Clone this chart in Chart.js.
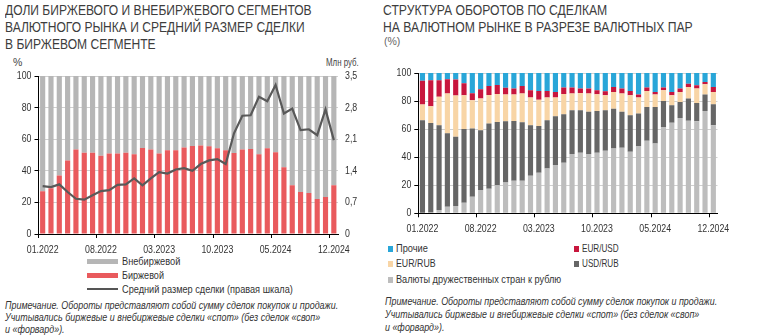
<!DOCTYPE html>
<html lang="ru">
<head>
<meta charset="utf-8">
<script src="https://cdn.jsdelivr.net/npm/chart.js@4.4.1/dist/chart.umd.min.js"></script>
<style>
  body { margin: 0; width: 758px; height: 336px; background: #fff; position: relative; overflow: hidden;
         font-family: "Liberation Sans", sans-serif; color: #333; }
  .abs { position: absolute; white-space: nowrap; transform-origin: 0 0; }
  .title { font-size: 15px; line-height: 17px; color: #3d3d3d; }
  .unit { font-size: 10.5px; color: #444; }
  .lg { font-size: 11px; line-height: 13px; color: #333; }
  .note { font-size: 10.5px; line-height: 11.8px; font-style: italic; color: #333; }
  .sw { position: absolute; }
  canvas { position: absolute; }
</style>
</head>
<body>

<div class="abs title" data-w="307" style="left:5px; top:1px;">ДОЛИ БИРЖЕВОГО И ВНЕБИРЖЕВОГО СЕГМЕНТОВ<br>ВАЛЮТНОГО РЫНКА И СРЕДНИЙ РАЗМЕР СДЕЛКИ<br>В БИРЖЕВОМ СЕГМЕНТЕ</div>
<div class="abs unit" style="left:13px; top:56px;">%</div>
<div class="abs unit" data-w="33" style="left:326px; top:56px;">Млн руб.</div>

<div style="position:absolute; left:0; top:55px; width:380px; height:200px;"><canvas id="leftChart"></canvas></div>

<div class="sw" style="left:87px; top:259px; width:31px; height:5px; background:#b6b6b6;"></div>
<div class="abs lg" data-w="58" style="left:122px; top:255px;">Внебиржевой</div>
<div class="sw" style="left:87px; top:273px; width:31px; height:5px; background:#e95a5d;"></div>
<div class="abs lg" data-w="42" style="left:122px; top:269px;">Биржевой</div>
<div class="sw" style="left:87px; top:288px; width:31px; height:2px; background:#555;"></div>
<div class="abs lg" data-w="171" style="left:122px; top:283px;">Средний размер сделки (правая шкала)</div>

<div class="abs note" data-w="333" style="left:5px; top:300px;">Примечание. Обороты представляют собой сумму сделок покупок и продажи.<br>Учитывались биржевые и внебиржевые сделки «спот» (без сделок «своп»<br>и «форвард»).</div>

<div class="abs title" data-w="310" style="left:383px; top:1px;">СТРУКТУРА ОБОРОТОВ ПО СДЕЛКАМ<br>НА ВАЛЮТНОМ РЫНКЕ В РАЗРЕЗЕ ВАЛЮТНЫХ ПАР</div>
<div class="abs unit" style="left:384px; top:35px; color:#666;">(%)</div>

<div style="position:absolute; left:380px; top:55px; width:378px; height:180px;"><canvas id="rightChart"></canvas></div>

<div class="sw" style="left:388px; top:246px; width:5px; height:6px; background:#29a6d8;"></div>
<div class="abs lg" data-w="32" style="left:396px; top:242px;">Прочие</div>
<div class="sw" style="left:388px; top:261px; width:5px; height:6px; background:#f8d5a6;"></div>
<div class="abs lg" data-w="40" style="left:396px; top:257px;">EUR/RUB</div>
<div class="sw" style="left:388px; top:277px; width:5px; height:6px; background:#bdbdbd;"></div>
<div class="abs lg" data-w="165" style="left:396px; top:273px;">Валюты дружественных стран к рублю</div>
<div class="sw" style="left:574px; top:246px; width:5px; height:6px; background:#c8163d;"></div>
<div class="abs lg" data-w="37" style="left:582px; top:242px;">EUR/USD</div>
<div class="sw" style="left:574px; top:261px; width:5px; height:6px; background:#666;"></div>
<div class="abs lg" data-w="37" style="left:582px; top:257px;">USD/RUB</div>

<div class="abs note" data-w="332" style="left:385px; top:295px; line-height:12.8px;">Примечание. Обороты представляют собой сумму сделок покупок и продажи.<br>Учитывались биржевые и внебиржевые сделки «спот» (без сделок «своп»<br>и «форвард»).</div>

<script>
// месяцы 01.2022 – 12.2024
const months = [
    '01.2022', '02.2022', '03.2022', '04.2022', '05.2022', '06.2022', '07.2022', '08.2022', '09.2022', '10.2022', '11.2022', '12.2022',
    '01.2023', '02.2023', '03.2023', '04.2023', '05.2023', '06.2023', '07.2023', '08.2023', '09.2023', '10.2023', '11.2023', '12.2023',
    '01.2024', '02.2024', '03.2024', '04.2024', '05.2024', '06.2024', '07.2024', '08.2024', '09.2024', '10.2024', '11.2024', '12.2024'
];
const shownMonths = ['01.2022', '08.2022', '03.2023', '10.2023', '05.2024', '12.2024'];

// левый график: доли сегментов, %
const exchangeShare = [27, 29, 37, 46.5, 53.5, 51.5, 51.5, 49.5, 51, 51, 51.5, 50.5,
    54.5, 53.5, 51, 53, 53, 54.7, 55.7, 56, 55.5, 54.3, 53, 51.3,
    53.5, 53.8, 50.5, 54.2, 51.7, 42.2, 30.8, 26.6, 26, 22.2, 23.4, 30.8];
const otcShare = [73, 71, 63, 53.5, 46.5, 48.5, 48.5, 50.5, 49, 49, 48.5, 49.5,
    45.5, 46.5, 49, 47, 47, 45.3, 44.3, 44, 44.5, 45.7, 47, 48.7,
    46.5, 46.2, 49.5, 45.8, 48.3, 57.8, 69.2, 73.4, 74, 77.8, 76.6, 69.2];
// средний размер сделки, млн руб.
const avgDeal = [1.06, 1.04, 1.10, 0.93, 0.78, 0.76, 0.86, 0.95, 0.97, 1.09, 1.10, 1.23,
    1.08, 1.23, 1.37, 1.34, 1.43, 1.46, 1.40, 1.55, 1.63, 1.66, 1.55, 2.23,
    2.62, 2.63, 3.04, 2.94, 3.30, 2.67, 2.78, 2.30, 2.32, 2.19, 2.76, 2.08];
const leftTicks = [0, 20, 40, 60, 80, 100];
const rightTicks = [0, 0.7, 1.4, 2.1, 2.8, 3.5];

// правый график: структура по валютным парам, %
const friendlyRub = [0.4, 0.6, 2.4, 4.7, 5.2, 7.6, 11.8, 16.6, 17.5, 20, 22, 23.2,
    23.2, 26.8, 28.9, 32, 34.4, 36, 42.2, 43.1, 42.2, 43.1, 44.5, 46.2,
    46.7, 43.8, 47.9, 51.7, 49.8, 61.6, 64.5, 68, 65.9, 65.6, 73, 62.8];
const usdRub = [66, 63.7, 60.4, 52.4, 49.3, 52.4, 48.6, 42.6, 46.5, 45, 43.6, 42.6,
    41.7, 36, 33.4, 34.4, 34.8, 34.6, 31.3, 30.4, 30.1, 29.9, 29, 28.4,
    25.6, 26.1, 23.2, 24.1, 26, 18.5, 12.5, 11.4, 15.9, 13.1, 11.6, 14.9];
const eurRub = [11.1, 12, 20.2, 28.2, 29.5, 24.1, 20.2, 22.6, 20.3, 20, 19, 18.8,
    20.4, 19.7, 18.7, 16.1, 13.3, 14.4, 11.8, 12.3, 13, 11.8, 10.6, 11.9,
    13, 14.2, 11.4, 11.4, 8.8, 7.6, 7.1, 7.1, 8.2, 10.2, 7.3, 8.8];
const eurUsd = [17, 18.5, 11.8, 10.2, 11.3, 8.6, 4.9, 6.7, 6.5, 6.5, 4.9, 4.3,
    5.5, 5.2, 6.2, 4.7, 4, 4.6, 4.3, 3.1, 3.6, 2.9, 2.9, 3.5,
    3.6, 3.1, 2.1, 2.4, 1.9, 1.9, 2.4, 2.4, 2.4, 2.3, 1.7, 3.5];
const others = [5.5, 5.2, 5.2, 4.5, 4.7, 7.3, 14.5, 11.5, 9.2, 8.5, 10.5, 11.1,
    9.2, 12.3, 12.8, 12.8, 13.5, 10.4, 10.4, 11.1, 11.1, 12.3, 13, 10,
    11.1, 12.8, 15.4, 10.4, 13.5, 10.4, 13.5, 11.1, 7.6, 8.8, 6.4, 10];

// сжимаем html-подписи до нужной ширины (узкого шрифта нет)
document.querySelectorAll('[data-w]').forEach(el => {
    el.style.transform = 'scaleX(' + (el.dataset.w / el.scrollWidth) + ')';
});

const FAMILY = '"Liberation Sans", sans-serif';
const tickFont = { family: FAMILY, size: 11 };
const TEXT = '#333';
const GRID = '#d0d0d0';
const NONE = 'rgba(0,0,0,0)';

// подписи осей рисуем сами, сжатыми по горизонтали, по позициям из шкал
const narrowLabels = {
    id: 'narrowLabels',
    afterDraw(chart) {
        const ctx = chart.ctx;
        Object.values(chart.scales).forEach(scale => {
            scale.getLabelItems(chart.chartArea).forEach(item => {
                if (!item.label) return;
                const [x, y] = item.options.translation;
                ctx.save();
                ctx.translate(x, y);
                ctx.scale(0.8, 1);
                ctx.font = '11px ' + FAMILY;
                ctx.fillStyle = TEXT;
                ctx.textAlign = item.options.textAlign;
                ctx.textBaseline = item.options.textBaseline;
                ctx.fillText(item.label, 0, item.textOffset);
                ctx.restore();
            });
        });
    }
};

// общая нижняя ось: подписи и засечки только у выбранных месяцев
function monthAxis(height) {
    return {
        stacked: true,
        offset: true,
        border: { color: '#000', width: 1 },
        grid: {
            drawOnChartArea: false,
            tickLength: 4,
            tickColor: ctx => shownMonths.includes(months[ctx.index]) ? '#000' : NONE
        },
        ticks: {
            autoSkip: false, maxRotation: 0, color: NONE, font: tickFont, padding: 5,
            callback: function (v, i) { return shownMonths.includes(months[i]) ? months[i] : ''; }
        },
        afterFit: s => { s.height = height; }
    };
}

function valueAxis(ticks, width, extra) {
    return Object.assign({
        min: ticks[0], max: ticks[ticks.length - 1],
        afterBuildTicks: s => { s.ticks = ticks.map(v => ({ value: v })); },
        afterFit: s => { s.width = width; }
    }, extra);
}

new Chart(document.getElementById('leftChart'), {
    data: {
        labels: months,
        datasets: [
            { type: 'line', label: 'Средний размер сделки (правая шкала)', data: avgDeal, yAxisID: 'y1',
              borderColor: '#595959', borderWidth: 2.2, pointRadius: 0, tension: 0, order: 0 },
            { type: 'bar', label: 'Биржевой', data: exchangeShare, backgroundColor: '#e95a5d',
              categoryPercentage: 1, barPercentage: 0.62, order: 1 },
            { type: 'bar', label: 'Внебиржевой', data: otcShare, backgroundColor: '#b6b6b6',
              categoryPercentage: 1, barPercentage: 0.62, order: 1 }
        ]
    },
    options: {
        responsive: true, maintainAspectRatio: false, animation: false,
        layout: { padding: { top: 21, right: 0, left: 0, bottom: 0 } },
        plugins: { legend: { display: false }, tooltip: { enabled: false } },
        scales: {
            x: monthAxis(21),
            y: valueAxis(leftTicks, 38.5, {
                stacked: true, position: 'left',
                border: { color: '#000', width: 1 },
                grid: { color: GRID, tickColor: '#000', tickLength: 4 },
                ticks: { color: NONE, font: tickFont, padding: 3 }
            }),
            y1: valueAxis(rightTicks, 42, {
                position: 'right',
                border: { display: false },
                grid: { drawOnChartArea: false, drawTicks: false },
                ticks: { color: NONE, font: tickFont, padding: 7,
                    callback: v => v === 0 ? '0' : v.toFixed(1).replace('.', ',') }
            })
        }
    },
    plugins: [narrowLabels]
});

const pairSeries = [
    ['Валюты дружественных стран к рублю', friendlyRub, '#bdbdbd'],
    ['USD/RUB', usdRub, '#666666'],
    ['EUR/RUB', eurRub, '#f8d5a6'],
    ['EUR/USD', eurUsd, '#c8163d'],
    ['Прочие', others, '#29a6d8']
];

new Chart(document.getElementById('rightChart'), {
    type: 'bar',
    data: {
        labels: months,
        datasets: pairSeries.map(([label, data, color]) => ({
            label, data, backgroundColor: color, categoryPercentage: 1, barPercentage: 0.62
        }))
    },
    options: {
        responsive: true, maintainAspectRatio: false, animation: false,
        layout: { padding: { top: 18, right: 40.5, left: 0, bottom: 0 } },
        plugins: { legend: { display: false }, tooltip: { enabled: false } },
        scales: {
            x: monthAxis(21.7),
            y: valueAxis(leftTicks, 38.3, {
                stacked: true,
                border: { color: '#000', width: 1 },
                grid: { color: GRID, tickColor: '#000', tickLength: 4 },
                ticks: { color: NONE, font: tickFont, padding: 3 }
            })
        }
    },
    plugins: [narrowLabels]
});
</script>
</body>
</html>
